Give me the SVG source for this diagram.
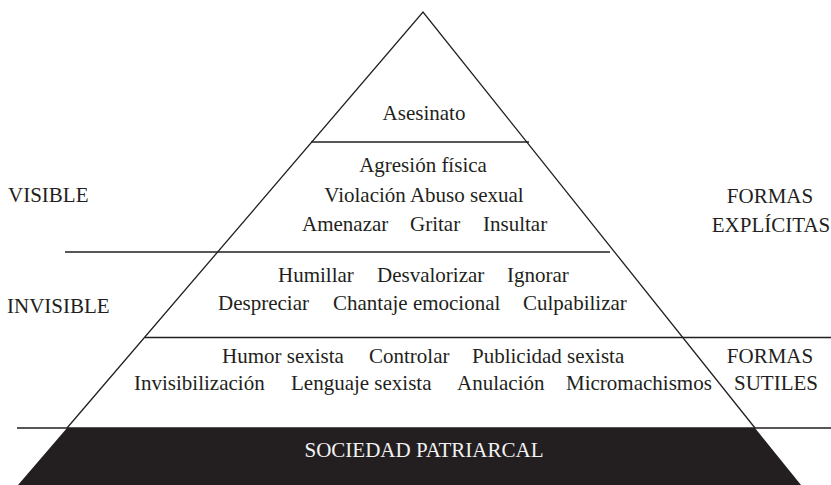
<svg xmlns="http://www.w3.org/2000/svg" width="831" height="485" viewBox="0 0 831 485">
<style>
  text { font-family: "Liberation Serif", "Times New Roman", serif; font-size: 21px; fill: #231f20; }
  .sep { stroke: #231f20; stroke-width: 1.5; fill: none; }
  .edge { stroke: #231f20; stroke-width: 1.3; fill: none; }
  .base { fill: #231f20; }
  .white { fill: #f2f2f2; }
</style>
<rect width="831" height="485" fill="#ffffff"/>
<g id="connectors">
  <line class="sep" x1="311" y1="142" x2="529" y2="142"/>
  <line class="sep" x1="65" y1="252" x2="610" y2="252"/>
  <line class="sep" x1="145" y1="337.5" x2="831" y2="337.5"/>
  <line class="sep" x1="17" y1="428" x2="831" y2="428"/>
  <polyline class="edge" points="67,428 423,12 755,428"/>
</g>
<g id="node-base">
  <polygon class="base" points="67,428 755,428 801,485 18,485"/>
  <text class="white" x="424" y="457" text-anchor="middle">SOCIEDAD PATRIARCAL</text>
</g>
<g id="node-asesinato">
  <text x="424" y="120" text-anchor="middle">Asesinato</text>
</g>
<g id="node-visible-forms">
  <text x="423" y="172" text-anchor="middle">Agresión física</text>
  <text x="424" y="202" text-anchor="middle">Violación Abuso sexual</text>
  <text y="231"><tspan x="302">Amenazar</tspan><tspan x="410">Gritar</tspan><tspan x="483">Insultar</tspan></text>
</g>
<g id="node-invisible-forms">
  <text y="282"><tspan x="278">Humillar</tspan><tspan x="377">Desvalorizar</tspan><tspan x="507">Ignorar</tspan></text>
  <text y="310"><tspan x="218">Despreciar</tspan><tspan x="333">Chantaje emocional</tspan><tspan x="523">Culpabilizar</tspan></text>
</g>
<g id="node-subtle-forms">
  <text y="363"><tspan x="222">Humor sexista</tspan><tspan x="369">Controlar</tspan><tspan x="472">Publicidad sexista</tspan></text>
  <text y="390"><tspan x="134">Invisibilización</tspan><tspan x="291">Lenguaje sexista</tspan><tspan x="457">Anulación</tspan><tspan x="566">Micromachismos</tspan></text>
</g>
<g id="node-labels">
  <text x="8" y="202">VISIBLE</text>
  <text x="7" y="313">INVISIBLE</text>
  <text x="770" y="203" text-anchor="middle">FORMAS</text>
  <text x="771" y="232" text-anchor="middle">EXPLÍCITAS</text>
  <text x="770" y="363" text-anchor="middle">FORMAS</text>
  <text x="776" y="390" text-anchor="middle">SUTILES</text>
</g>
</svg>
